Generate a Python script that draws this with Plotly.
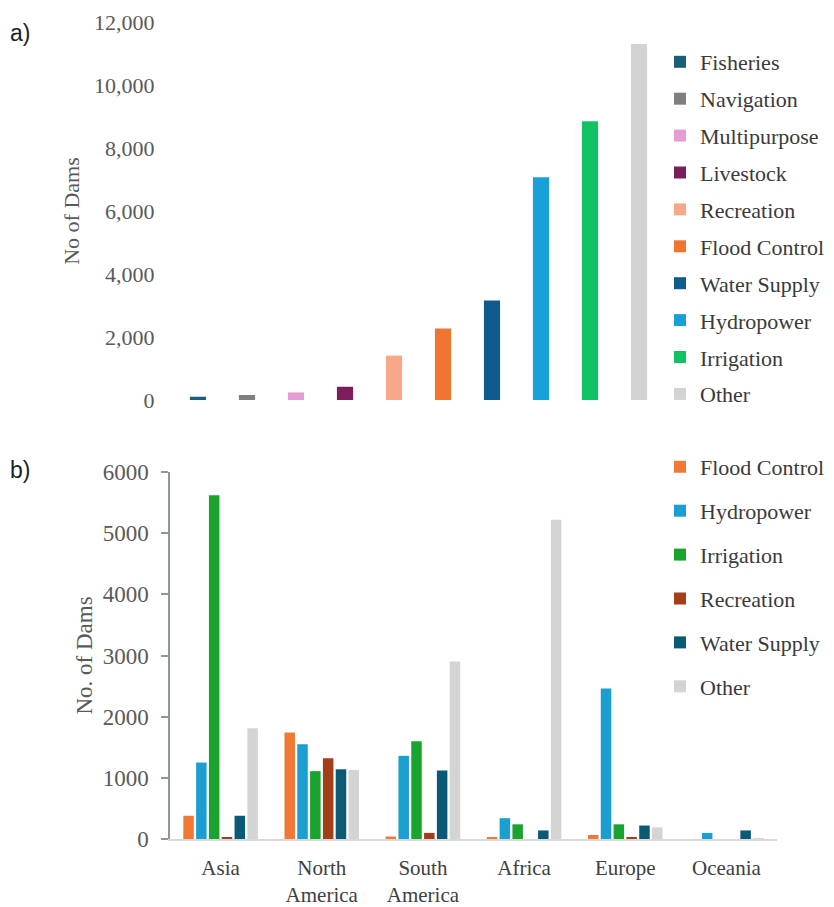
import plotly.graph_objects as go

# ---- Panel a) data ----
purposes_a = ["Fisheries", "Navigation", "Multipurpose", "Livestock", "Recreation",
              "Flood Control", "Water Supply", "Hydropower", "Irrigation", "Other"]
dams_a = [100, 160, 240, 420, 1410, 2270, 3160, 7070, 8850, 11300]
colors_a = ["#1b5e7b", "#7f7f7f", "#e59bd4", "#7c1d5c", "#f6a98a",
            "#f07530", "#0f5b8e", "#1aa0d8", "#11c265", "#d3d3d3"]
yticks_a = [0, 2000, 4000, 6000, 8000, 10000, 12000]

# ---- Panel b) data ----
regions_b = ["Asia", "North<br>America", "South<br>America", "Africa", "Europe", "Oceania"]
purposes_b = ["Flood Control", "Hydropower", "Irrigation", "Recreation", "Water Supply", "Other"]
flood_control_b = [380, 1740, 40, 20, 65, 0]
hydropower_b = [1250, 1550, 1360, 340, 2460, 100]
irrigation_b = [5620, 1110, 1600, 240, 240, 0]
recreation_b = [20, 1320, 100, 0, 20, 0]
water_supply_b = [380, 1140, 1120, 140, 220, 140]
other_b = [1810, 1130, 2900, 5220, 190, 10]
values_b = [flood_control_b, hydropower_b, irrigation_b, recreation_b, water_supply_b, other_b]
colors_b = ["#f07a35", "#1a9fd0", "#1aa42f", "#a33f18", "#0b5a75", "#d4d4d4"]
yticks_b = [0, 1000, 2000, 3000, 4000, 5000, 6000]

# page body has an 8px margin; figure starts at (8, 8) in the window
OFF = 8
W, H = 834 - OFF, 907
SERIF = "Liberation Serif"

fig = go.Figure()

for name, val, col in zip(purposes_a, dams_a, colors_a):
    fig.add_trace(go.Bar(
        x=[name], y=[val], name=name, marker_color=col, marker_line_width=0,
        xaxis="x", yaxis="y", offsetgroup="a", width=0.33,
        legend="legend", legendgroup="a_" + name,
    ))

for name, vals, col in zip(purposes_b, values_b, colors_b):
    fig.add_trace(go.Bar(
        x=regions_b, y=vals, name=name, marker_color=col, marker_line_width=0,
        xaxis="x2", yaxis="y2", offsetgroup="b_" + name,
        legend="legend2", legendgroup="b_" + name,
    ))

def px_x(p):
    return (p - OFF) / W

def px_y(p):
    return 1 - (p - OFF) / H

fig.update_layout(
    width=W, height=H,
    margin=dict(l=0, r=0, t=0, b=0, autoexpand=False),
    paper_bgcolor="white", plot_bgcolor="white",
    barmode="group", bargap=0.24, bargroupgap=0.18,
    font=dict(family=SERIF, size=22, color="#595959"),
    xaxis=dict(domain=[px_x(173.5), px_x(663.5)], anchor="y", automargin=False,
               categoryorder="array", categoryarray=purposes_a,
               showticklabels=False, showline=False, showgrid=False, zeroline=False),
    yaxis=dict(domain=[px_y(400), px_y(22)], anchor="x", range=[0, 12000], automargin=False,
               tickvals=yticks_a, tickformat=",", showline=False, showgrid=False,
               zeroline=False, ticklabelstandoff=18,
               tickfont=dict(family=SERIF, size=22, color="#595959"),
               title=dict(text="No of Dams", standoff=8,
                          font=dict(family=SERIF, size=22, color="#595959"))),
    xaxis2=dict(domain=[px_x(170), px_x(777)], anchor="y2", automargin=False,
                categoryorder="array", categoryarray=regions_b,
                showline=True, linecolor="#d9d9d9", linewidth=1.5,
                showgrid=False, zeroline=False, ticks="", ticklabelstandoff=9,
                tickfont=dict(family=SERIF, size=21, color="#404040")),
    yaxis2=dict(domain=[px_y(839), px_y(472)], anchor="x2", range=[0, 6000], automargin=False,
                tickvals=yticks_b, showline=True, linecolor="#8e979c", linewidth=1.5,
                ticks="outside", ticklen=7, tickcolor="#8e979c", tickwidth=1.5,
                showgrid=False, zeroline=False, ticklabelstandoff=8,
                tickfont=dict(family=SERIF, size=23, color="#595959"),
                title=dict(text="No. of Dams", standoff=4,
                           font=dict(family=SERIF, size=23, color="#595959"))),
    legend=dict(x=px_x(660), y=px_y(41), xanchor="left", yanchor="top",
                traceorder="grouped", tracegroupgap=5.3,
                bgcolor="rgba(0,0,0,0)",
                font=dict(family=SERIF, size=22, color="#3a3a3a")),
    legend2=dict(x=px_x(660), y=px_y(446), xanchor="left", yanchor="top",
                 traceorder="grouped", tracegroupgap=12.3,
                 bgcolor="rgba(0,0,0,0)",
                 font=dict(family=SERIF, size=22, color="#3a3a3a")),
    annotations=[
        dict(text="a)", x=px_x(8), y=px_y(33), xref="paper", yref="paper",
             xanchor="left", yanchor="middle", showarrow=False,
             font=dict(family="Liberation Sans", size=23, color="#222222")),
        dict(text="b)", x=px_x(8), y=px_y(470), xref="paper", yref="paper",
             xanchor="left", yanchor="middle", showarrow=False,
             font=dict(family="Liberation Sans", size=23, color="#222222")),
    ],
)

fig.write_html("out.html")
